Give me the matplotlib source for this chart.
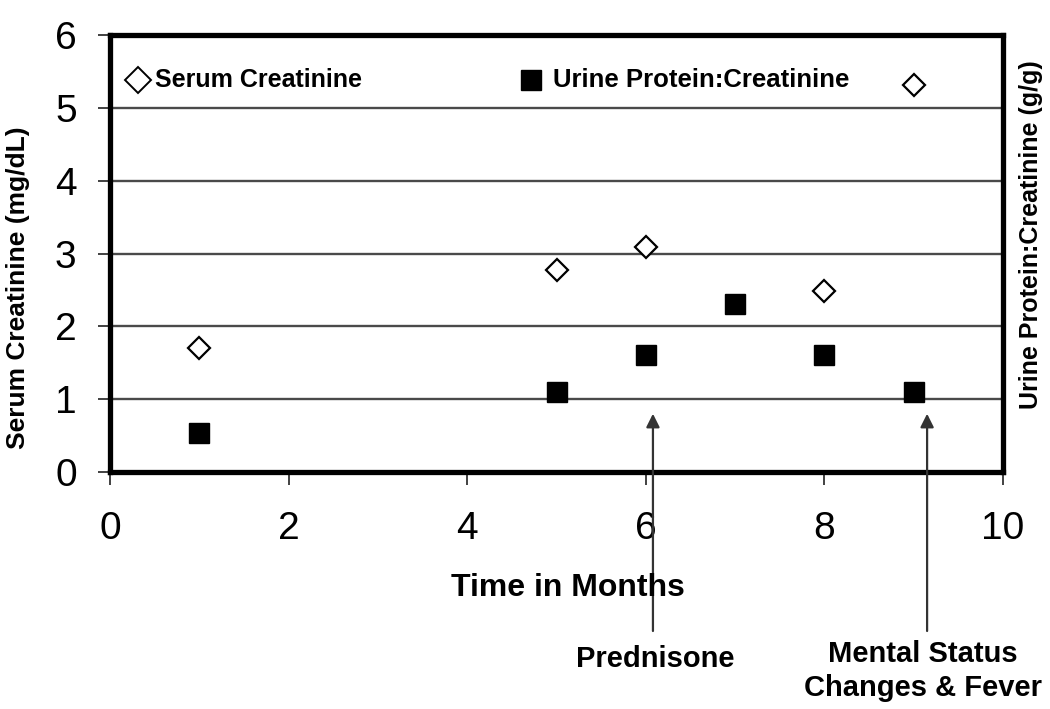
import matplotlib.pyplot as plt

plt.rcParams['font.family'] = ['Liberation Sans', 'DejaVu Sans']

# data
months_serum = [1, 5, 6, 8, 9]
serum_creatinine = [1.7, 2.78, 3.09, 2.49, 5.31]

months_urine = [1, 5, 6, 7, 8, 9]
urine_ratio = [0.54, 1.1, 1.61, 2.31, 1.61, 1.1]

# events marked under the axis
event_month = [6.08, 9.15]
event_label = ['Prednisone', 'Mental Status\nChanges & Fever']
event_text_x = [655, 923]   # pixel centres of the captions
event_text_y = [659, 671]

W, H = 1050, 709
fig = plt.figure(figsize=(W / 100, H / 100), dpi=100)
ax = fig.add_axes([110 / W, 1 - 472 / H, 893 / W, 437 / H])

ax.set_xlim(0, 10)
ax.set_ylim(0, 6)
ax.set_xticks([0, 2, 4, 6, 8, 10])
ax.set_yticks([0, 1, 2, 3, 4, 5, 6])
ax.yaxis.grid(True, color='#4a4a4a', linewidth=1.7)
ax.set_axisbelow(True)

for s in ax.spines.values():
    s.set_linewidth(3.8)
ax.tick_params(axis='both', direction='out', length=9, width=1.3, colors='#333333',
               labelcolor='black', labelsize=28)
ax.tick_params(axis='x', pad=19)
ax.tick_params(axis='y', pad=15)

ax.plot(months_serum, serum_creatinine, linestyle='none', marker='D', markersize=11,
        markerfacecolor='white', markeredgecolor='black', markeredgewidth=1.6, zorder=3)
ax.plot(months_urine, urine_ratio, linestyle='none', marker='s', markersize=14,
        markerfacecolor='black', markeredgecolor='black', zorder=3)

# legend drawn inside the plot area
ax.plot([0.31], [5.38], linestyle='none', marker='D', markersize=13,
        markerfacecolor='white', markeredgecolor='black', markeredgewidth=1.4)
ax.text(0.50, 5.38, 'Serum Creatinine', fontsize=18, fontweight='bold', va='center')
ax.plot([4.72], [5.38], linestyle='none', marker='s', markersize=14,
        markerfacecolor='black', markeredgecolor='black')
ax.text(4.96, 5.38, 'Urine Protein:Creatinine', fontsize=18.5, fontweight='bold', va='center')

# axis titles
fig.text(568 / W, 1 - 588 / H, 'Time in Months', fontsize=23, fontweight='bold',
         ha='center', va='center')
fig.text(18 / W, 1 - 288 / H, 'Serum Creatinine (mg/dL)', fontsize=19, fontweight='bold',
         ha='center', va='center', rotation=90)
fig.text(1031 / W, 1 - 235 / H, 'Urine Protein:Creatinine (g/g)', fontsize=18,
         fontweight='bold', ha='center', va='center', rotation=90)

for xm, lab, tx, ty in zip(event_month, event_label, event_text_x, event_text_y):
    ax.annotate('', xy=(xm, 0.8), xycoords='data',
                xytext=(xm, 1 - 631 / H), textcoords=('data', 'figure fraction'),
                arrowprops=dict(arrowstyle='-|>', color='#333333', lw=1.6,
                                mutation_scale=20, shrinkA=0, shrinkB=0),
                annotation_clip=False)
    fig.text(tx / W, 1 - ty / H, lab, ha='center', va='center', fontsize=21,
             fontweight='bold', linespacing=1.25)

fig.savefig('out.png', dpi=100)
